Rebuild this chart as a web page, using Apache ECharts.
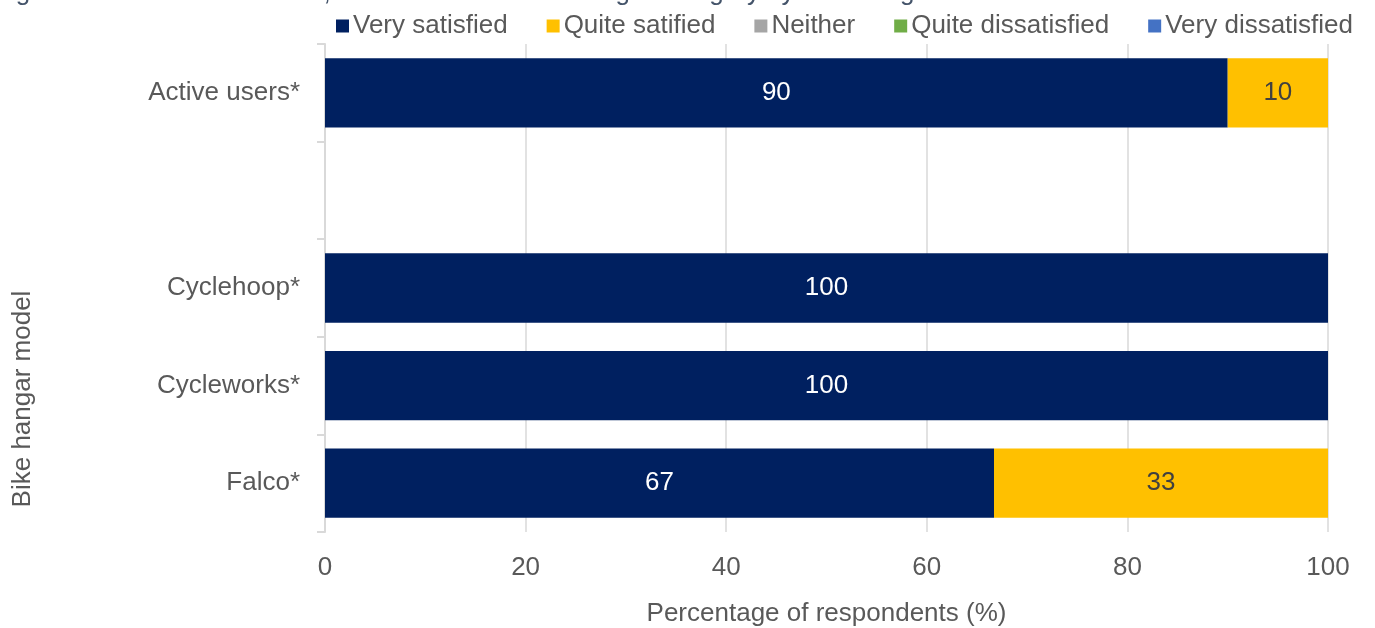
<!DOCTYPE html>
<html>
<head>
<meta charset="utf-8">
<script src="https://cdn.jsdelivr.net/npm/echarts@6/dist/echarts.min.js"></script>
<style>html,body{margin:0;padding:0;background:#fff;}#chart{width:1375px;height:628px;}</style>
</head>
<body>
<div id="chart"></div>
<script>
const categories = ['Active users*', '', 'Cyclehoop*', 'Cycleworks*', 'Falco*'];
const seriesNames = ['Very satisfied', 'Quite satified', 'Neither', 'Quite dissatisfied', 'Very dissatisfied'];
const verySatisfied = [90, null, 100, 100, 66.7];
const quiteSatisfied = [10, null, 0, 0, 33.3];
const neither = [0, null, 0, 0, 0];
const quiteDissatisfied = [0, null, 0, 0, 0];
const veryDissatisfied = [0, null, 0, 0, 0];
const xTicks = [0, 20, 40, 60, 80, 100];
const colors = ['#002060', '#FFC000', '#A5A5A5', '#70AD47', '#4472C4'];
const labelColors = ['#ffffff', '#404040', '#404040', '#ffffff', '#ffffff'];
const titleText = 'Figure 9: Overall satisfaction, active users vs bike hangar category by bike hangar model';

const font = 'Liberation Sans, Arial, sans-serif';
const allData = [verySatisfied, quiteSatisfied, neither, quiteDissatisfied, veryDissatisfied];

const chart = echarts.init(document.getElementById('chart'), null, {renderer: 'canvas'});
chart.setOption({
  animation: false,
  color: colors,
  textStyle: {fontFamily: font},
  graphic: [
    {type: 'text', left: -6, top: -20, style: {text: titleText, fontSize: 26, fill: '#44546A', fontFamily: font}},
    {type: 'text', x: 10, y: 399, rotation: Math.PI / 2, style: {text: 'Bike hangar model', fontSize: 26, fill: '#595959', fontFamily: font, align: 'center', verticalAlign: 'top'}}
  ],
  legend: {
    left: 331, top: 8, itemWidth: 13, itemHeight: 13, itemGap: 39,
    icon: 'rect',
    textStyle: {fontSize: 26, color: '#595959', fontFamily: font, padding: [0, 0, 0, -1]},
    data: seriesNames
  },
  grid: {left: 325, right: 47, top: 44, bottom: 96, containLabel: false, outerBoundsMode: 'none'},
  xAxis: {
    type: 'value', min: xTicks[0], max: xTicks[xTicks.length - 1], interval: 20,
    axisLine: {show: false}, axisTick: {show: false},
    splitLine: {lineStyle: {color: '#D9D9D9', width: 1.5}},
    axisLabel: {fontSize: 26, color: '#595959', margin: 23, fontFamily: font},
    name: 'Percentage of respondents (%)', nameLocation: 'middle', nameGap: 69,
    nameTextStyle: {fontSize: 26, color: '#595959', fontFamily: font}
  },
  yAxis: {
    type: 'category', data: categories, inverse: true,
    axisLine: {lineStyle: {color: '#D9D9D9', width: 2}},
    axisTick: {show: true, length: 8, lineStyle: {color: '#D9D9D9', width: 2}},
    axisLabel: {fontSize: 26, color: '#595959', margin: 25, fontFamily: font}
  },
  series: seriesNames.map((name, i) => ({
    name: name, type: 'bar', stack: 'total', barWidth: '71%',
    data: allData[i],
    label: {
      show: true, position: 'inside', fontSize: 26, color: labelColors[i], fontFamily: font,
      formatter: p => (p.value ? Math.round(p.value) : '')
    }
  }))
});
</script>
</body>
</html>
